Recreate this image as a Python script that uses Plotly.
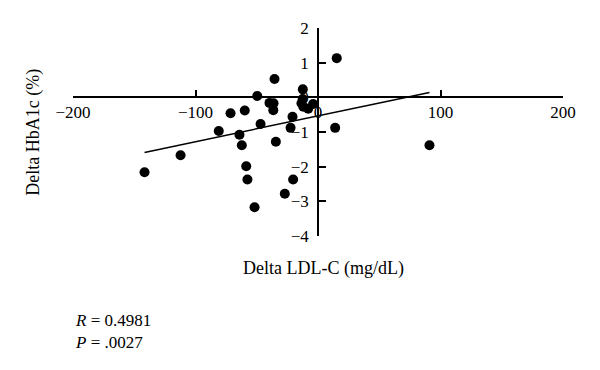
import plotly.graph_objects as go

# Data
delta_ldl = [-35.5, -49.6, -12.4, -71.4, -59.8, -39.6, -36.3, -36.5,
             -13.5, -12.0, -8.0, -4.0, -20.8, -46.9, -22.4, -81.0,
             -64.1, -34.4, -62.2, -58.6, -57.6, -20.3, -27.1, -51.8,
             14.0, 15.3, 91.0, -141.6, -112.2, -12.5]
delta_hba1c = [0.53, 0.04, 0.23, -0.46, -0.38, -0.16, -0.17, -0.37,
               -0.17, -0.27, -0.33, -0.19, -0.56, -0.77, -0.88, -0.97,
               -1.08, -1.28, -1.38, -1.99, -2.37, -2.37, -2.78, -3.17,
               -0.88, 1.13, -1.38, -2.16, -1.67, -0.05]

fit_slope = 0.00744
fit_intercept = -0.535

x_ticks = [-200, -100, 0, 100, 200]
y_ticks = [-4, -3, -2, -1, 0, 1, 2]

x_range = [-200, 200]
y_range = [-4, 2]

FONT = "Liberation Serif"

fit_x = [min(delta_ldl), max(delta_ldl)]
fit_y = [fit_slope * v + fit_intercept for v in fit_x]

fig = go.Figure()
fig.add_trace(go.Scatter(x=fit_x, y=fit_y, mode="lines",
                         line=dict(color="black", width=1.5),
                         showlegend=False, hoverinfo="skip"))
fig.add_trace(go.Scatter(x=delta_ldl, y=delta_hba1c, mode="markers",
                         marker=dict(color="black", size=10),
                         showlegend=False))

x_pos = (0 - y_range[0]) / (y_range[1] - y_range[0])
y_pos = (0 - x_range[0]) / (x_range[1] - x_range[0])

fig.update_layout(
    width=592, height=362,
    margin=dict(l=65, r=37, t=20, b=134),
    paper_bgcolor="white", plot_bgcolor="white",
    font=dict(family=FONT, size=17, color="black"),
    xaxis=dict(range=x_range, tickvals=x_ticks, anchor="free", position=x_pos,
               showline=True, linecolor="black", linewidth=1.5,
               ticks="inside", ticklen=7, tickwidth=1.5, tickcolor="black",
               showgrid=False, zeroline=False,
               tickfont=dict(family=FONT, size=17, color="black")),
    yaxis=dict(range=y_range, tickvals=y_ticks, anchor="free", position=y_pos,
               showline=True, linecolor="black", linewidth=1.5,
               ticks="inside", ticklen=7, tickwidth=1.5, tickcolor="black",
               ticklabelstandoff=5,
               showgrid=False, zeroline=False,
               tickfont=dict(family=FONT, size=17, color="black")),
    annotations=[
        dict(text="Delta LDL-C (mg/dL)", xref="paper", yref="paper",
             x=0.512, y=-0.154, xanchor="center", yanchor="middle",
             showarrow=False, font=dict(family=FONT, size=18)),
        dict(text="Delta HbA1c (%)", xref="paper", yref="paper",
             x=-0.082, y=0.5, xanchor="center", yanchor="middle", textangle=-90,
             showarrow=False, font=dict(family=FONT, size=18)),
        dict(text="<i>R</i> = 0.4981", xref="paper", yref="paper",
             x=0.0, y=-0.404, xanchor="left", yanchor="middle", align="left",
             showarrow=False, font=dict(family=FONT, size=17)),
        dict(text="<i>P</i> = .0027", xref="paper", yref="paper",
             x=0.0, y=-0.51, xanchor="left", yanchor="middle", align="left",
             showarrow=False, font=dict(family=FONT, size=17)),
    ],
)

fig.write_html("out.html")
